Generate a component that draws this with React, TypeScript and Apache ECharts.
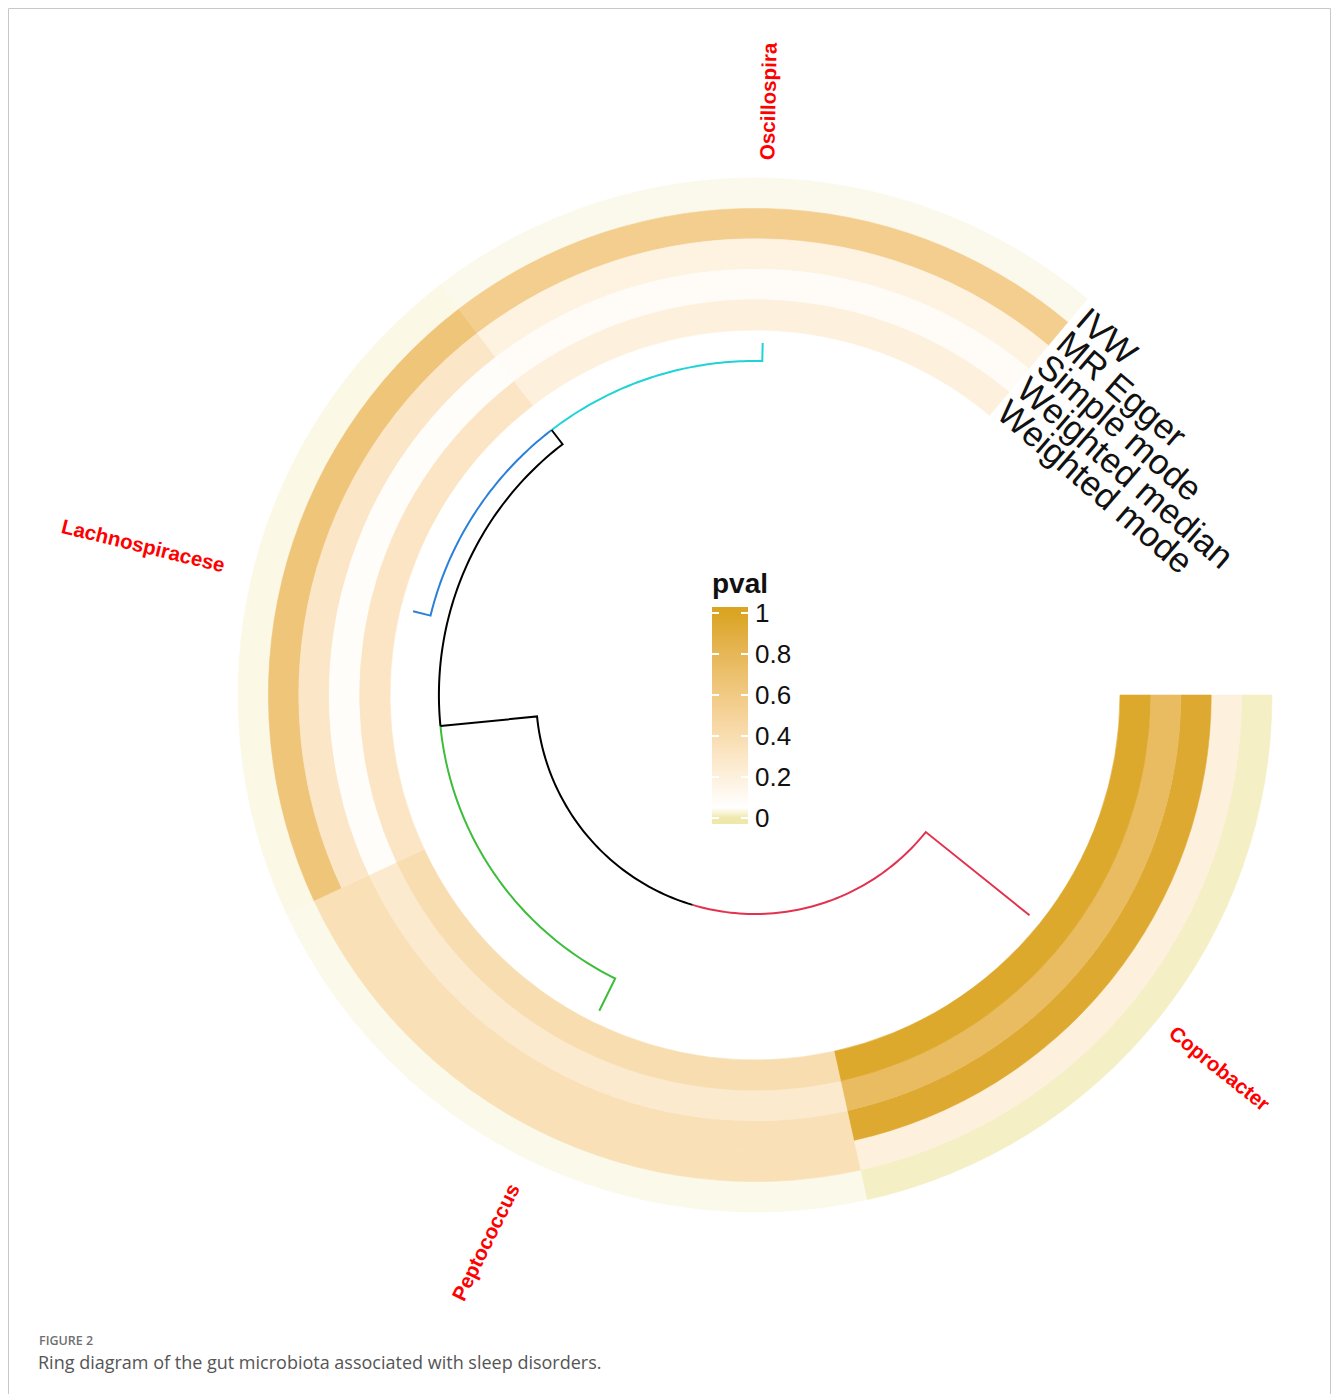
import React, { useEffect, useRef } from 'react';
import * as echarts from 'echarts';

// ---------- data ----------
const sectors = ['Coprobacter', 'Peptococcus', 'Lachnospiracese', 'Oscillospira'];
const methods = ['IVW', 'MR Egger', 'Simple mode', 'Weighted median', 'Weighted mode'];
// p-values per method, in sector order (Coprobacter, Peptococcus, Lachnospiracese, Oscillospira)
const pvalIVW = [0.016, 0.037, 0.035, 0.038];
const pvalMREgger = [0.2, 0.37, 0.65, 0.55];
const pvalSimpleMode = [0.95, 0.37, 0.3, 0.18];
const pvalWeightedMedian = [0.75, 0.26, 0.07, 0.08];
const pvalWeightedMode = [0.96, 0.4, 0.31, 0.2];
const legendTicks = [0, 0.2, 0.4, 0.6, 0.8, 1];
// dendrogram merges (m0, m1, m2 in order)
const mergeLeft = ['Lachnospiracese', 'Peptococcus', 'Coprobacter'];
const mergeRight = ['Oscillospira', 'm0', 'm1'];
const mergeHeight = [0.135, 0.27, 1.0];

// ---------- layout / style ----------
const W = 1333;
const H = 1394;
const CX = 755;
const CY = 695;
const R_OUT = 517;
const RING_IN = 365;
const RING_W = (R_OUT - RING_IN) / methods.length;
const LEAF_R = 352;
const TREE_DEPTH = 133;
const SECTOR_DEG = 77.5;
const LABEL_R = 535;
const LABEL_R_FLIP = 546;
const FONT = '"Liberation Sans", Arial, Helvetica, sans-serif';
const branchColor: Record<string, string> = {
  Coprobacter: '#e3324f',
  Peptococcus: '#3dbd3a',
  Lachnospiracese: '#2a80d8',
  Oscillospira: '#1fd3d6',
};
const palette = ['#000000', '#e3324f', '#3dbd3a', '#2a80d8', '#1fd3d6'];
const scaleStops: [number, string][] = [
  [0, '#EEE8AA'],
  [0.05, '#FFFFFF'],
  [1, '#DAA520'],
];

// ---- colour helpers (Lab interpolation) ----
function hexToRgb(h: string) {
  const n = parseInt(h.slice(1), 16);
  return [(n >> 16) & 255, (n >> 8) & 255, n & 255];
}
function toLin(c: number) {
  const x = c / 255;
  return x <= 0.04045 ? x / 12.92 : Math.pow((x + 0.055) / 1.055, 2.4);
}
function fromLin(x: number) {
  const v = x <= 0.0031308 ? 12.92 * x : 1.055 * Math.pow(x, 1 / 2.4) - 0.055;
  return Math.max(0, Math.min(255, Math.round(v * 255)));
}
function rgbToLab(rgb: number[]) {
  const [r, g, b] = rgb.map(toLin);
  const X = (0.4124 * r + 0.3576 * g + 0.1805 * b) / 0.95047;
  const Y = 0.2126 * r + 0.7152 * g + 0.0722 * b;
  const Z = (0.0193 * r + 0.1192 * g + 0.9505 * b) / 1.08883;
  const f = (t: number) => (t > 0.008856 ? Math.cbrt(t) : 7.787 * t + 16 / 116);
  const fx = f(X), fy = f(Y), fz = f(Z);
  return [116 * fy - 16, 500 * (fx - fy), 200 * (fy - fz)];
}
function labToRgb(lab: number[]) {
  const fy = (lab[0] + 16) / 116;
  const fx = fy + lab[1] / 500;
  const fz = fy - lab[2] / 200;
  const inv = (t: number) => (t * t * t > 0.008856 ? t * t * t : (t - 16 / 116) / 7.787);
  const X = inv(fx) * 0.95047, Y = inv(fy), Z = inv(fz) * 1.08883;
  const r = 3.2406 * X - 1.5372 * Y - 0.4986 * Z;
  const g = -0.9689 * X + 1.8758 * Y + 0.0415 * Z;
  const b = 0.0557 * X - 0.204 * Y + 1.057 * Z;
  return [fromLin(r), fromLin(g), fromLin(b)];
}
function scaleColor(v: number) {
  const x = Math.max(0, Math.min(1, v));
  for (let i = 0; i < scaleStops.length - 1; i++) {
    const [a, ca] = scaleStops[i];
    const [b, cb] = scaleStops[i + 1];
    if (x >= a && x <= b) {
      const t = (x - a) / (b - a);
      const A = rgbToLab(hexToRgb(ca));
      const B = rgbToLab(hexToRgb(cb));
      const c = labToRgb(A.map((u, k) => u + (B[k] - u) * t));
      return `rgb(${c[0]},${c[1]},${c[2]})`;
    }
  }
  return scaleStops[scaleStops.length - 1][1];
}

export default function App() {
  const ref = useRef<HTMLDivElement>(null);
  useEffect(() => {
    if (!ref.current) return;
    const chart = echarts.init(ref.current, undefined, { renderer: 'svg' });

    const pvals = [pvalIVW, pvalMREgger, pvalSimpleMode, pvalWeightedMedian, pvalWeightedMode];
    const heatData: number[][] = [];
    pvals.forEach((arr, m) => arr.forEach((p, s) => heatData.push([s, m, p])));

    // dendrogram
    const pos: Record<string, number> = {};
    const hgt: Record<string, number> = {};
    sectors.forEach((s, i) => {
      pos[s] = i + 0.5;
      hgt[s] = 0;
    });
    const edges: number[][] = [];
    mergeHeight.forEach((h, i) => {
      const name = 'm' + i;
      const l = mergeLeft[i];
      const r = mergeRight[i];
      pos[name] = (pos[l] + pos[r]) / 2;
      hgt[name] = h;
      [l, r].forEach((c) => {
        const col = branchColor[c] ? palette.indexOf(branchColor[c]) : 0;
        edges.push([pos[name], pos[c], h, hgt[c], col]);
      });
    });

    const N_VM = 100;
    const vmColors: string[] = [];
    for (let i = 0; i <= N_VM; i++) vmColors.push(scaleColor(i / N_VM));

    // legend layout
    const LG_X = 712, LG_TOP = 613, LG_H = 205, LG_W = 36, LG_PAD = 6;
    const gy = (v: number) => (LG_TOP + (1 - v) * LG_H - (LG_TOP - LG_PAD)) / (LG_H + 2 * LG_PAD);
    const gradStops: any[] = [{ offset: 0, color: scaleColor(1) }];
    for (let i = 40; i >= 0; i--) {
      const v = i / 40;
      gradStops.push({ offset: gy(v), color: scaleColor(v) });
    }
    gradStops.push({ offset: 1, color: scaleColor(0) });

    const option: any = {
      animation: false,
      backgroundColor: '#ffffff',
      polar: { center: [CX, CY], radius: [0, R_OUT] },
      angleAxis: { type: 'value', min: 0, max: 360 / SECTOR_DEG, startAngle: 0, clockwise: true, show: false },
      radiusAxis: { type: 'value', min: 0, max: R_OUT, show: false },
      grid: { left: LG_X, top: LG_TOP, width: LG_W, height: LG_H },
      xAxis: { type: 'value', show: false, min: 0, max: 1 },
      yAxis: [
        {
          type: 'value', min: 0, max: 1, interval: 0.2, position: 'left', z: 10,
          axisLine: { show: false }, splitLine: { show: false }, axisLabel: { show: false },
          axisTick: { show: true, inside: true, length: 7, lineStyle: { color: '#ffffff', width: 2 } },
        },
        {
          type: 'value', min: 0, max: 1, interval: 0.2, position: 'right', z: 10,
          axisLine: { show: false }, splitLine: { show: false },
          axisTick: { show: true, inside: true, length: 7, lineStyle: { color: '#ffffff', width: 2 } },
          axisLabel: {
            show: true, margin: 7, fontSize: 26, color: '#111111', fontFamily: FONT,
            formatter: (v: number) => (legendTicks.indexOf(Math.round(v * 10) / 10) >= 0 ? String(Math.round(v * 10) / 10) : ''),
          },
        },
      ],
      visualMap: {
        type: 'continuous', show: false, min: 0, max: 1, dimension: 2, seriesIndex: 0,
        inRange: { color: vmColors },
      },
      graphic: [
        {
          type: 'rect', z: 0, shape: { x: 8.5, y: 8.5, width: 1322, height: 1420 },
          style: { fill: 'none', stroke: '#c8c8c8', lineWidth: 1 },
        },
        {
          type: 'rect', z: 1, shape: { x: LG_X, y: LG_TOP - LG_PAD, width: LG_W, height: LG_H + 2 * LG_PAD },
          style: { fill: new echarts.graphic.LinearGradient(0, 0, 0, 1, gradStops) },
        },
        {
          type: 'text', z: 2, x: 712, y: 583,
          style: { text: 'pval', fontSize: 28, fontWeight: 'bold', fontFamily: FONT, fill: '#111111', align: 'left', verticalAlign: 'middle' },
        },
        {
          type: 'text', z: 2, x: 39, y: 1340,
          style: { text: 'FIGURE 2', fontSize: 12.5, fontWeight: 600, fontFamily: '"Open Sans", sans-serif', fill: '#6f6f6f', align: 'left', verticalAlign: 'middle' },
        },
        {
          type: 'text', z: 2, x: 38, y: 1362,
          style: { text: 'Ring diagram of the gut microbiota associated with sleep disorders.', fontSize: 18, fontFamily: '"Open Sans", sans-serif', fill: '#555555', align: 'left', verticalAlign: 'middle' },
        },
      ],
      series: [
        {
          type: 'custom',
          coordinateSystem: 'polar',
          data: heatData,
          renderItem: (params: any, api: any) => {
            const s = api.value(0);
            const m = api.value(1);
            const cs = params.coordSys;
            const cx = cs.cx, cy = cs.cy;
            const rIn = RING_IN + (methods.length - 1 - m) * RING_W;
            const rOut = rIn + RING_W;
            const p0 = api.coord([rIn, s]);
            const p1 = api.coord([rIn, s + 1]);
            const pO = api.coord([rOut, s]);
            const r0 = Math.hypot(p0[0] - cx, p0[1] - cy);
            const r = Math.hypot(pO[0] - cx, pO[1] - cy);
            const sa = Math.atan2(p0[1] - cy, p0[0] - cx);
            let ea = Math.atan2(p1[1] - cy, p1[0] - cx);
            while (ea <= sa) ea += Math.PI * 2;
            const color = api.visual('color');
            return {
              type: 'sector',
              shape: { cx, cy, r0, r, startAngle: sa, endAngle: ea, clockwise: true },
              style: { fill: color, stroke: color, lineWidth: 0.6 },
            };
          },
        },
        {
          type: 'custom',
          coordinateSystem: 'polar',
          data: edges,
          z: 5,
          renderItem: (params: any, api: any) => {
            const pa = api.value(0), ca = api.value(1), ph = api.value(2), ch = api.value(3);
            const col = palette[api.value(4)];
            const rP = LEAF_R - ph * TREE_DEPTH;
            const rC = LEAF_R - ch * TREE_DEPTH;
            const pts: number[][] = [];
            const N = 60;
            for (let k = 0; k <= N; k++) pts.push(api.coord([rP, pa + ((ca - pa) * k) / N]));
            pts.push(api.coord([rC, ca]));
            return { type: 'polyline', shape: { points: pts }, style: { stroke: col, lineWidth: 2, fill: null } };
          },
        },
        {
          type: 'custom',
          coordinateSystem: 'polar',
          data: sectors.map((_, i) => [i]),
          z: 6,
          renderItem: (params: any, api: any) => {
            const i = api.value(0);
            const a = i + 0.5;
            const theta = a * SECTOR_DEG;
            const t = ((((theta + 180) % 360) + 360) % 360) - 180;
            let rot: number, align: string, rr: number;
            if (Math.abs(t) <= 90) {
              rot = (-t * Math.PI) / 180;
              align = 'left';
              rr = LABEL_R;
            } else {
              const d = t > 0 ? t - 180 : t + 180;
              rot = (-d * Math.PI) / 180;
              align = 'right';
              rr = LABEL_R_FLIP;
            }
            const p = api.coord([rr, a]);
            return {
              type: 'text', x: p[0], y: p[1], rotation: rot,
              style: { text: sectors[i], fill: '#ff0000', fontSize: 20.5, fontWeight: 'bold', fontFamily: FONT, align, verticalAlign: 'middle' },
            };
          },
        },
        {
          type: 'custom',
          coordinateSystem: 'polar',
          data: methods.map((_, i) => [i]),
          z: 6,
          renderItem: (params: any, api: any) => {
            const m = api.value(0);
            const rc = RING_IN + (methods.length - 1 - m + 0.5) * RING_W;
            const a = sectors.length + 0.7 / SECTOR_DEG;
            const p = api.coord([rc, a]);
            const theta = a * SECTOR_DEG + 90 - 360;
            return {
              type: 'text', x: p[0], y: p[1], rotation: (-theta * Math.PI) / 180,
              style: { text: methods[m], fill: '#111111', fontSize: 35, fontFamily: FONT, align: 'left', verticalAlign: 'middle' },
            };
          },
        },
      ],
    };
    chart.setOption(option);
    return () => chart.dispose();
  }, []);
  return <div ref={ref} style={{ position: 'absolute', left: 0, top: 0, width: W, height: H }} />;
}
